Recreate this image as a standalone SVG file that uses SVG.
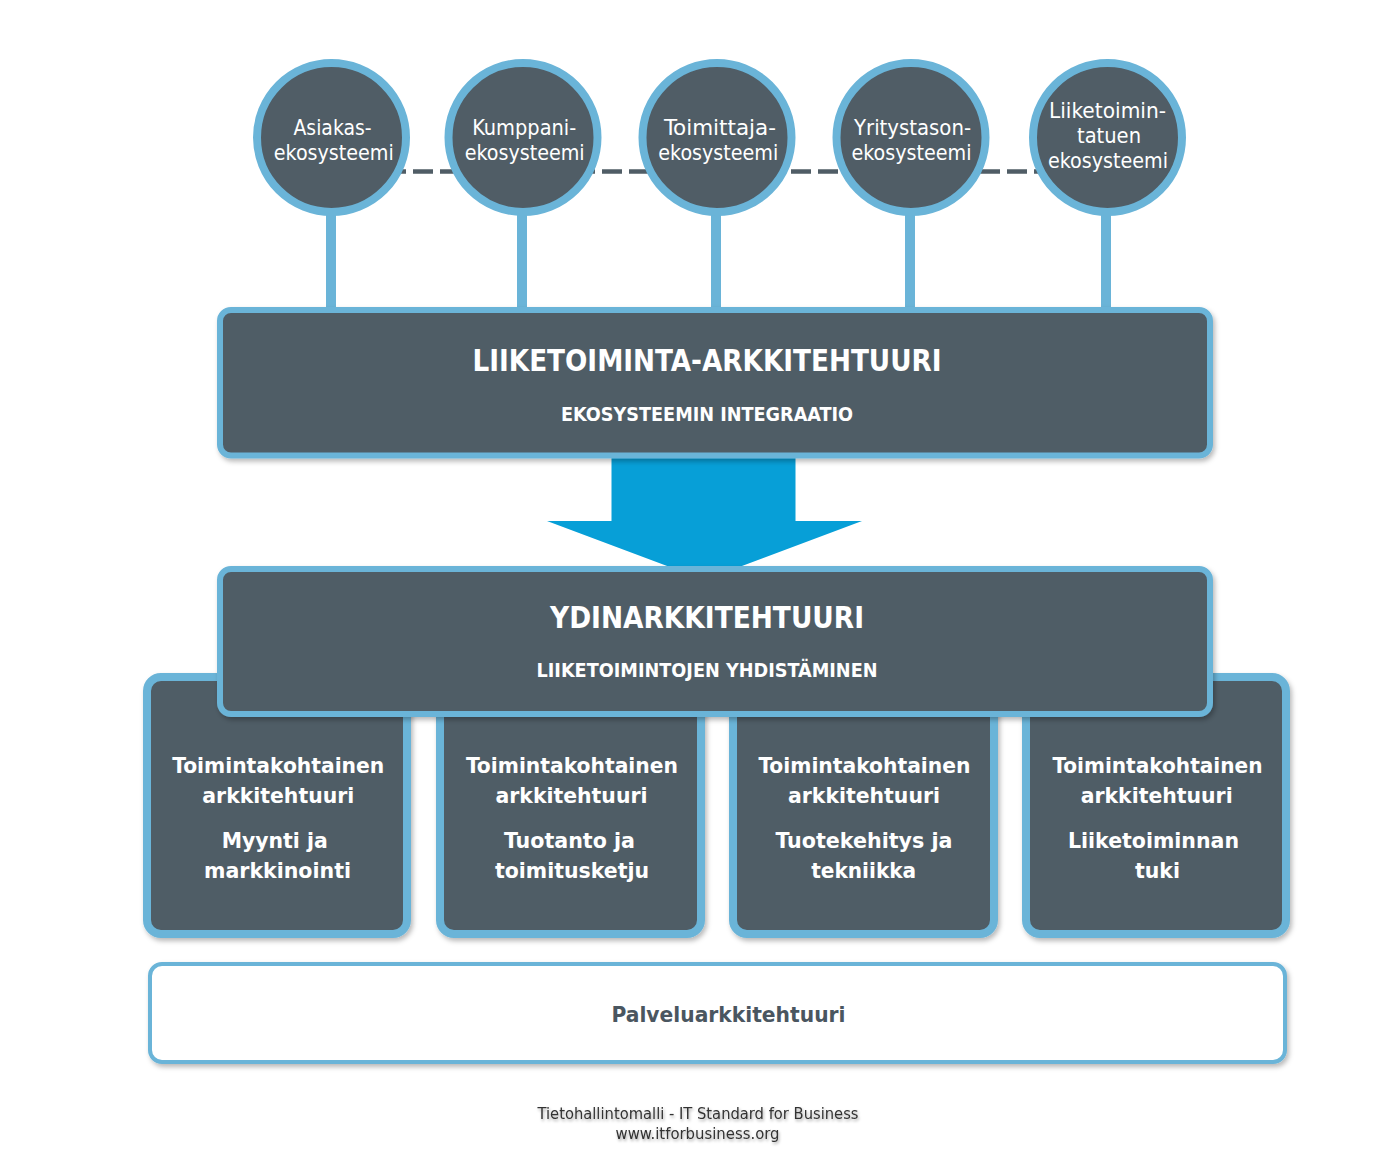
<svg xmlns="http://www.w3.org/2000/svg" width="1400" height="1165" viewBox="0 0 1400 1165">
  <defs>
    <filter id="shadow" x="-5%" y="-10%" width="110%" height="130%">
      <feDropShadow dx="2" dy="3" stdDeviation="2.5" flood-color="#000" flood-opacity="0.28"/>
    </filter>
    <filter id="tshadow" x="-5%" y="-30%" width="110%" height="180%">
      <feDropShadow dx="1" dy="2" stdDeviation="1.5" flood-color="#000" flood-opacity="0.35"/>
    </filter>
    <style>
      .circ { fill: #505D66; stroke: #6AB4D8; stroke-width: 8; }
      .box { fill: #505D66; stroke: #6AB4D8; stroke-width: 6; }
      .fbox { fill: #505D66; stroke: #6AB4D8; stroke-width: 8; }
      .stem { stroke: #6AB4D8; stroke-width: 10; fill: none; }
      .dash { stroke: #505D66; stroke-width: 4.5; stroke-dasharray: 20 7; fill: none; }
      text { font-family: "DejaVu Sans Condensed", "DejaVu Sans", sans-serif; font-stretch: condensed; text-anchor: middle; }
      .ct { fill: #FFFFFF; font-size: 21px; }
      .title { fill: #FFFFFF; font-size: 30px; font-weight: bold; }
      .sub { fill: #FFFFFF; font-size: 19.5px; font-weight: bold; }
      .ft { fill: #FFFFFF; font-size: 22px; font-weight: bold; }
      .pt { fill: #4A5660; font-size: 21.5px; font-weight: bold; }
      .foot { fill: #333333; font-size: 15.5px; }
    </style>
  </defs>

  <g id="connectors">
    <line class="dash" x1="332" y1="171.5" x2="1107" y2="171.5"/>
    <line class="stem" x1="331" y1="205" x2="331" y2="312"/>
    <line class="stem" x1="522" y1="205" x2="522" y2="312"/>
    <line class="stem" x1="716" y1="205" x2="716" y2="312"/>
    <line class="stem" x1="910" y1="205" x2="910" y2="312"/>
    <line class="stem" x1="1106" y1="205" x2="1106" y2="312"/>
    <polygon id="arrow" fill="#079FD7" points="611.5,452 795.5,452 795.5,521 862,521 704.5,580 547,521 611.5,521"/>
  </g>

  <g id="eco-asiakas">
    <circle class="circ" cx="331.5" cy="137.5" r="74.5"/>
    <text class="ct" x="332.5" y="135" textLength="78" lengthAdjust="spacingAndGlyphs">Asiakas-</text>
    <text class="ct" x="333.8" y="160" textLength="120" lengthAdjust="spacingAndGlyphs">ekosysteemi</text>
  </g>
  <g id="eco-kumppani">
    <circle class="circ" cx="523" cy="137.5" r="74.5"/>
    <text class="ct" x="524.2" y="135" textLength="104" lengthAdjust="spacingAndGlyphs">Kumppani-</text>
    <text class="ct" x="524.7" y="160" textLength="120" lengthAdjust="spacingAndGlyphs">ekosysteemi</text>
  </g>
  <g id="eco-toimittaja">
    <circle class="circ" cx="717" cy="137.5" r="74.5"/>
    <text class="ct" x="720" y="134.5" textLength="112" lengthAdjust="spacingAndGlyphs">Toimittaja-</text>
    <text class="ct" x="718.3" y="160" textLength="120" lengthAdjust="spacingAndGlyphs">ekosysteemi</text>
  </g>
  <g id="eco-yritystason">
    <circle class="circ" cx="911" cy="137.5" r="74.5"/>
    <text class="ct" x="912.5" y="134.5" textLength="117" lengthAdjust="spacingAndGlyphs">Yritystason-</text>
    <text class="ct" x="911.5" y="160" textLength="120" lengthAdjust="spacingAndGlyphs">ekosysteemi</text>
  </g>
  <g id="eco-liiketoimintatuen">
    <circle class="circ" cx="1107.5" cy="137.5" r="74.5"/>
    <text class="ct" x="1107.5" y="117.5" textLength="117" lengthAdjust="spacingAndGlyphs">Liiketoimin-</text>
    <text class="ct" x="1109" y="142.5" textLength="64" lengthAdjust="spacingAndGlyphs">tatuen</text>
    <text class="ct" x="1108" y="168" textLength="120" lengthAdjust="spacingAndGlyphs">ekosysteemi</text>
  </g>

  <g id="liiketoiminta-arkkitehtuuri">
    <rect class="box" x="220" y="310" width="990" height="145.5" rx="11" filter="url(#shadow)"/>
    <text class="title" x="707" y="371" textLength="469" lengthAdjust="spacingAndGlyphs">LIIKETOIMINTA-ARKKITEHTUURI</text>
    <text class="sub" x="707" y="421" textLength="292" lengthAdjust="spacingAndGlyphs">EKOSYSTEEMIN INTEGRAATIO</text>
  </g>

  <g id="myynti">
    <rect class="fbox" x="147" y="677" width="260" height="257" rx="14" filter="url(#shadow)"/>
    <text class="ft" x="278.3" y="773" textLength="212" lengthAdjust="spacingAndGlyphs">Toimintakohtainen</text>
    <text class="ft" x="278.3" y="802.5" textLength="152" lengthAdjust="spacingAndGlyphs">arkkitehtuuri</text>
    <text class="ft" x="274.7" y="848" textLength="106" lengthAdjust="spacingAndGlyphs">Myynti ja</text>
    <text class="ft" x="277.5" y="878" textLength="147" lengthAdjust="spacingAndGlyphs">markkinointi</text>
  </g>
  <g id="tuotanto">
    <rect class="fbox" x="440" y="677" width="261" height="257" rx="14" filter="url(#shadow)"/>
    <text class="ft" x="572" y="773" textLength="212" lengthAdjust="spacingAndGlyphs">Toimintakohtainen</text>
    <text class="ft" x="571.5" y="802.5" textLength="152" lengthAdjust="spacingAndGlyphs">arkkitehtuuri</text>
    <text class="ft" x="569.5" y="848" textLength="131" lengthAdjust="spacingAndGlyphs">Tuotanto ja</text>
    <text class="ft" x="572" y="878" textLength="154" lengthAdjust="spacingAndGlyphs">toimitusketju</text>
  </g>
  <g id="tuotekehitys">
    <rect class="fbox" x="733" y="677" width="261" height="257" rx="14" filter="url(#shadow)"/>
    <text class="ft" x="864.5" y="773" textLength="212" lengthAdjust="spacingAndGlyphs">Toimintakohtainen</text>
    <text class="ft" x="864" y="802.5" textLength="152" lengthAdjust="spacingAndGlyphs">arkkitehtuuri</text>
    <text class="ft" x="864" y="848" textLength="177" lengthAdjust="spacingAndGlyphs">Tuotekehitys ja</text>
    <text class="ft" x="863.7" y="878" textLength="105" lengthAdjust="spacingAndGlyphs">tekniikka</text>
  </g>
  <g id="liiketoiminnan-tuki">
    <rect class="fbox" x="1026" y="677" width="260" height="257" rx="14" filter="url(#shadow)"/>
    <text class="ft" x="1157.5" y="773" textLength="210" lengthAdjust="spacingAndGlyphs">Toimintakohtainen</text>
    <text class="ft" x="1156.7" y="802.5" textLength="152" lengthAdjust="spacingAndGlyphs">arkkitehtuuri</text>
    <text class="ft" x="1153.5" y="848" textLength="171" lengthAdjust="spacingAndGlyphs">Liiketoiminnan</text>
    <text class="ft" x="1157.5" y="878" textLength="45" lengthAdjust="spacingAndGlyphs">tuki</text>
  </g>

  <g id="ydinarkkitehtuuri">
    <rect class="box" x="220" y="569" width="990" height="145" rx="11" filter="url(#shadow)"/>
    <text class="title" x="707" y="627.5" textLength="314" lengthAdjust="spacingAndGlyphs">YDINARKKITEHTUURI</text>
    <text class="sub" x="707" y="677" textLength="341" lengthAdjust="spacingAndGlyphs">LIIKETOIMINTOJEN YHDISTÄMINEN</text>
  </g>

  <g id="palveluarkkitehtuuri">
    <rect x="150" y="964" width="1135" height="98" rx="12" fill="#FFFFFF" stroke="#6AB4D8" stroke-width="4" filter="url(#shadow)"/>
    <text class="pt" x="728.5" y="1021.5" textLength="234" lengthAdjust="spacingAndGlyphs">Palveluarkkitehtuuri</text>
  </g>

  <g id="footer" filter="url(#tshadow)">
    <text class="foot" x="698" y="1119" textLength="321" lengthAdjust="spacingAndGlyphs">Tietohallintomalli - IT Standard for Business</text>
    <text class="foot" x="697.5" y="1139" textLength="164" lengthAdjust="spacingAndGlyphs">www.itforbusiness.org</text>
  </g>
</svg>
